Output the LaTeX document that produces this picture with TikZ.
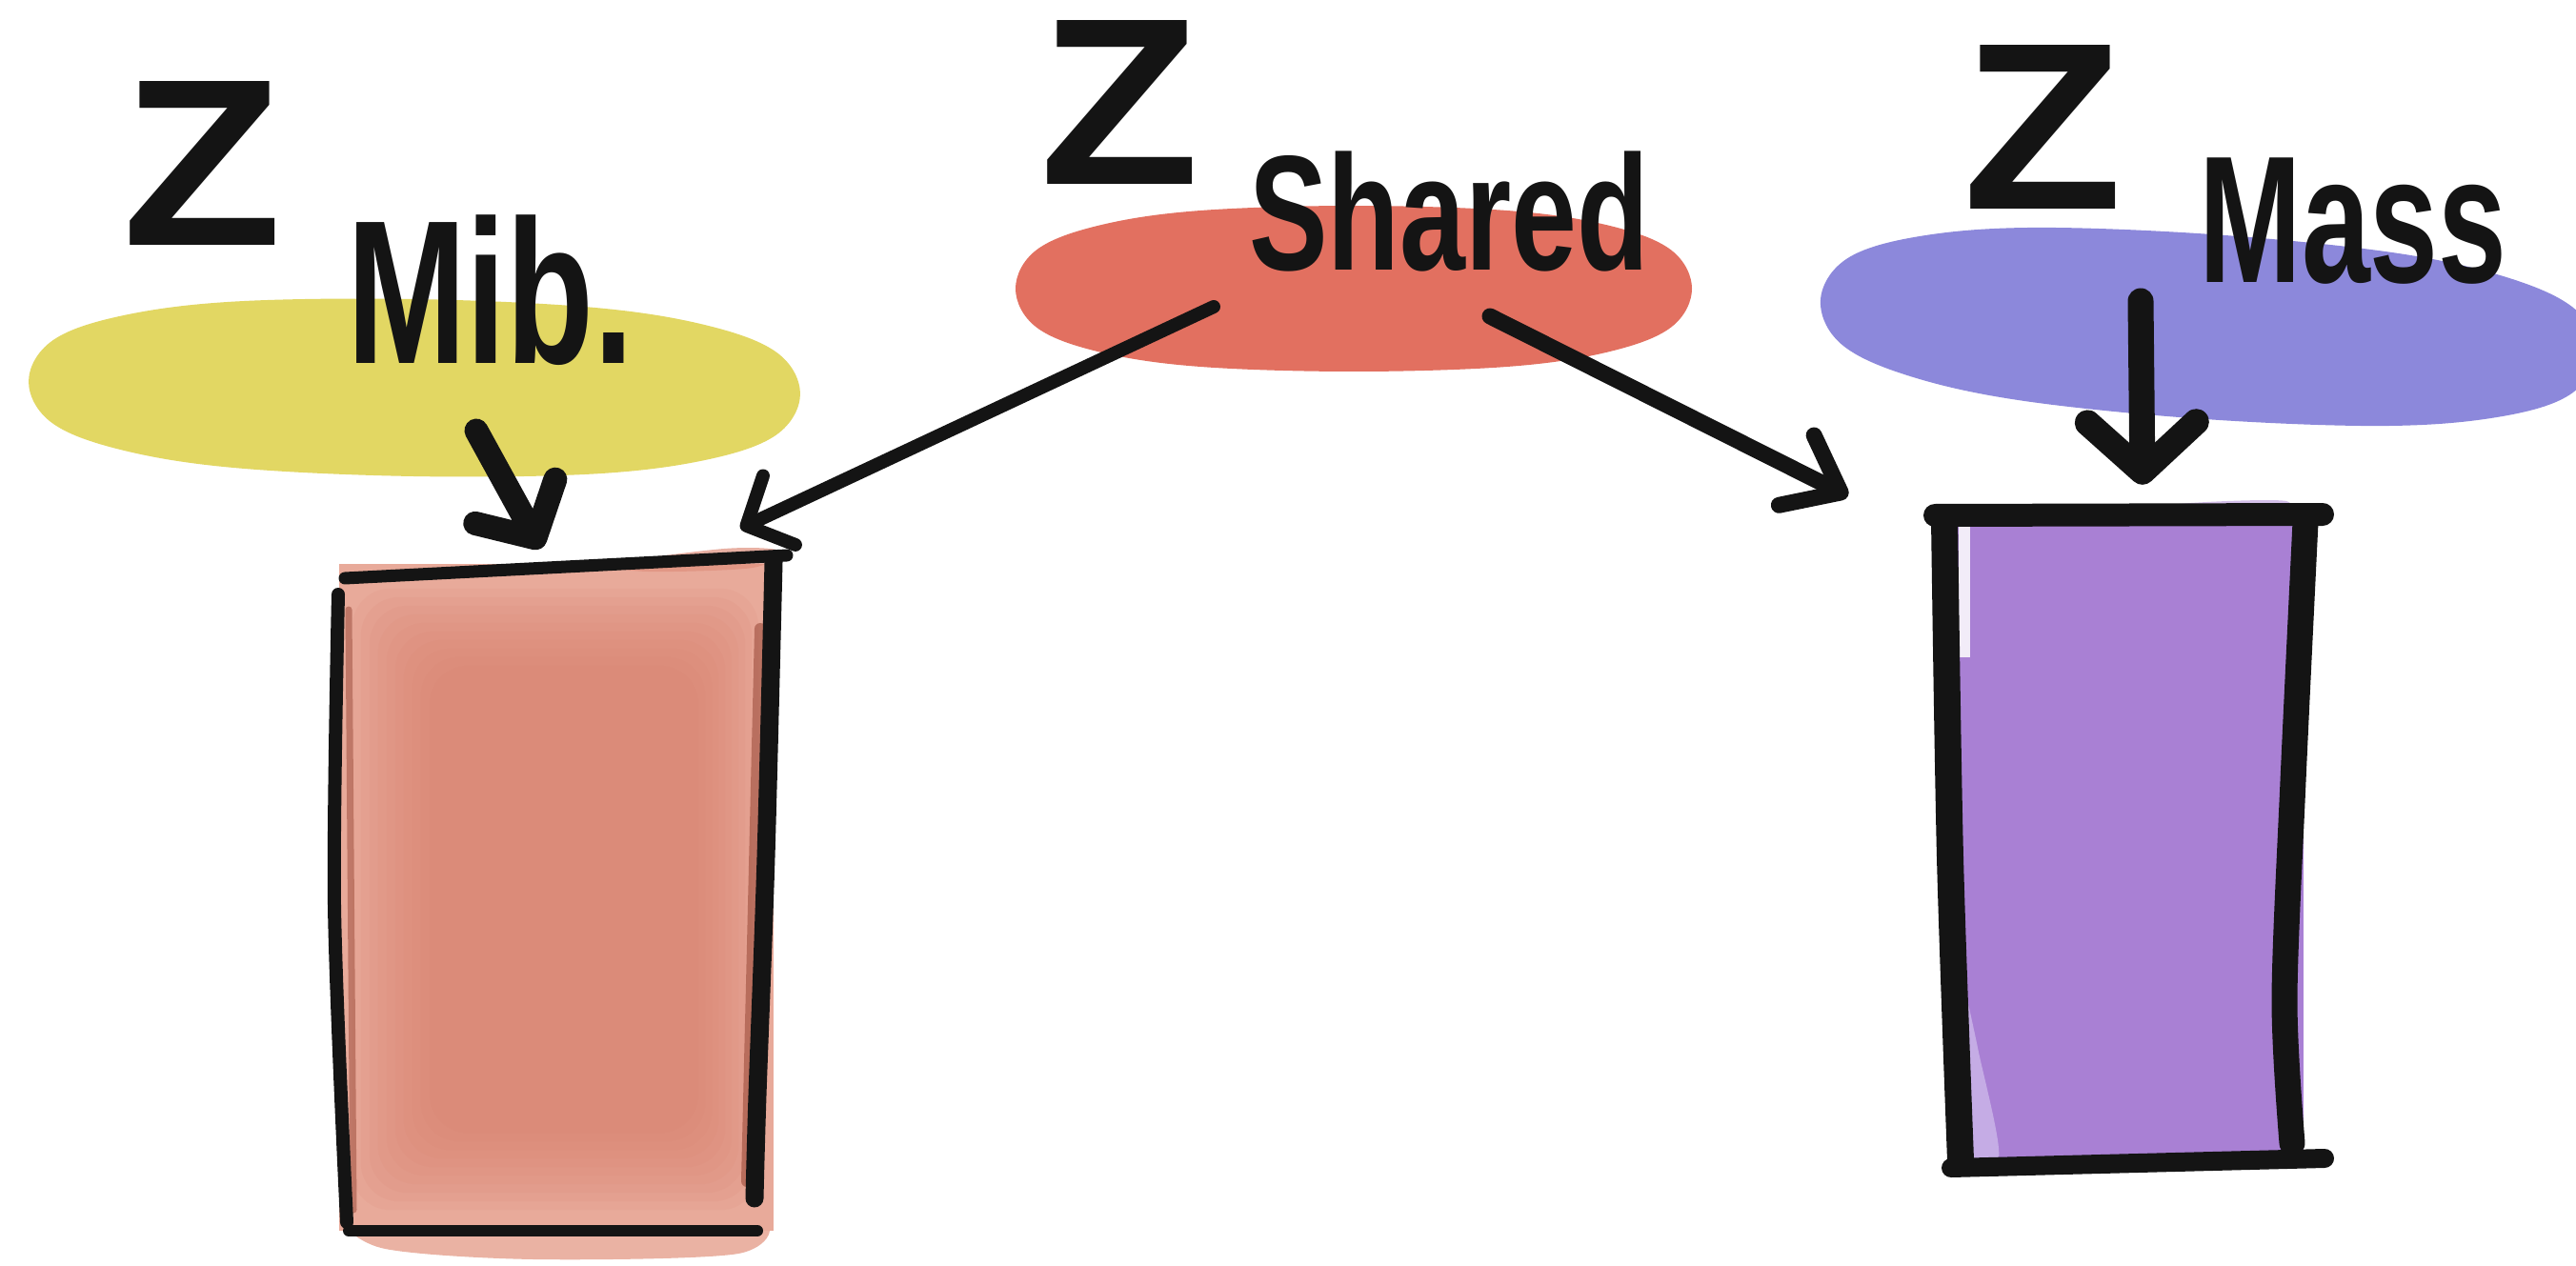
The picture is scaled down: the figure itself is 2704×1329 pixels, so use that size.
\documentclass[tikz,border=0pt]{standalone}
\usepackage{fontspec}
\usepackage{graphicx}
\setmainfont{Liberation Sans}
\newfontfamily\handfont{Liberation Sans}
\usetikzlibrary{arrows.meta,calc}

\definecolor{ink}{HTML}{141414}
\definecolor{blobyellow}{HTML}{E2D763}
\definecolor{blobred}{HTML}{E27060}
\definecolor{blobblue}{HTML}{8C88DB}
\definecolor{salmonlight}{HTML}{E8AA9A}
\definecolor{salmon}{HTML}{DF8F7D}
\definecolor{salmondark}{HTML}{DA8471}
\definecolor{rust}{HTML}{8E3B2A}
\definecolor{lilac}{HTML}{A980D4}
\definecolor{lilacpale}{HTML}{CDB8EA}

% soft superellipse blob: centre x, centre y, half width, half height, tilt, colour
\newcommand\sketchblob[6]{%
  \begin{scope}[shift={(#1,#2)}, rotate=#5, xscale=#3, yscale=#4]
    \fill[#6] plot[smooth cycle, tension=0.6] coordinates
      {(1,0) (0.939,0.464) (0.758,0.758) (0.464,0.939)
       (0,1) (-0.464,0.939) (-0.758,0.758) (-0.939,0.464)
       (-1,0) (-0.939,-0.464) (-0.758,-0.758) (-0.464,-0.939)
       (0,-1) (0.464,-0.939) (0.758,-0.758) (0.939,-0.464)};
  \end{scope}}

% handwritten-looking narrow lettering
\newcommand\narrowword[2]{\scalebox{#1}[1]{#2}}

\tikzset{
  inkline/.style={draw=ink, line cap=round, line join=round, line width=#1},
  flow/.style={draw=ink, line cap=round, line join=round, line width=#1},
  zglyph/.style={inner sep=0pt, text=ink, font=\handfont\bfseries\fontsize{250}{250}\selectfont},
  subtext/.style={inner sep=0pt, text=ink, font=\handfont\bfseries\fontsize{#1}{#1}\selectfont},
  boxbody/.style={inner sep=0pt, draw=none, fill=#1}
}

\begin{document}
\begin{tikzpicture}[x=1pt, y=-1pt]
  \useasboundingbox (0,0) rectangle (2704,1329);
  \clip (0,0) rectangle (2704,1329);
  \fill[white] (0,0) rectangle (2704,1329);

  % coloured blobs behind the labels
  \sketchblob{435}{407}{405}{93}{-1}{blobyellow}
  \sketchblob{1421}{303}{355}{87}{0}{blobred}
  \sketchblob{2318}{343}{408}{97}{-4}{blobblue}
  \coordinate (mib) at (435,407);
  \coordinate (shared) at (1421,303);
  \coordinate (mass) at (2318,343);

  % left box: salmon wash, lighter towards the edges
  \node[boxbody=salmonlight, minimum width=456pt, minimum height=700pt] (leftbox) at (584,942) {};
  \fill[salmonlight, opacity=.9] plot[smooth cycle] coordinates
    {(372,1275) (600,1288) (795,1280) (775,1316) (560,1322) (400,1310)};
  \foreach \k in {0,...,9}
    \fill[salmondark, opacity=.12, rounded corners=40pt]
      ($(leftbox.north west)+(14+9*\k,26+9*\k)$) rectangle
      ($(leftbox.south east)+(-16-7*\k,-22-9*\k)$);
  \fill[salmon, opacity=.7] plot[smooth cycle] coordinates
    {(640,592) (760,576) (818,578) (790,596) (680,600)};
  \draw[rust, line width=12pt, line cap=round, opacity=.5] (798,660) -- (784,1240);
  \draw[rust, line width=7pt, line cap=round, opacity=.45] (366,640) -- (371,1270);

  % left box: ink outline
  \draw[inkline=13pt] (362,607) -- (826,583);
  \draw[inkline=14pt] plot[smooth] coordinates {(355,624) (351,950) (364,1283)};
  \draw[inkline=19pt] plot[smooth] coordinates {(812,590) (804,900) (795,1150) (792,1258)};
  \draw[inkline=12pt] (366,1292) -- (795,1292);

  % right box: lilac wash
  \node[boxbody=lilac, minimum width=372pt, minimum height=672pt] (massbox) at (2232,882) {};
  \fill[lilacpale, opacity=.8] plot[smooth] coordinates
    {(2054,1000) (2076,1100) (2098,1216) (2054,1216)} -- cycle;
  \fill[white, opacity=.85] (2056,552) rectangle (2068,690);
  \fill[lilac!70, opacity=.7] plot[smooth cycle] coordinates
    {(2200,540) (2300,528) (2400,526) (2380,545) (2250,546)};

  % right box: ink outline
  \draw[inkline=24pt] (2031,541) -- (2438,540);
  \draw[inkline=28pt] plot[smooth] coordinates {(2041,545) (2047,900) (2058,1218)};
  \draw[inkline=27pt] plot[smooth] coordinates {(2420,548) (2407,820) (2398,1050) (2406,1200)};
  \draw[inkline=20pt] (2048,1226) -- (2440,1216);

  % connectors
  \draw[flow=25pt, -{Straight Barb[length=44pt,width=96pt,round]}]
    ($(mib)+(65,45)$) -- ($(leftbox.north)+(-16,-16)$);
  \draw[flow=14pt, -{Straight Barb[length=38pt,width=80pt,round]}]
    ($(shared)+(-147,19)$) -- ($(leftbox.north east)+(-35,-37)$);
  \draw[flow=17pt, -{Straight Barb[length=52pt,width=82pt,round]}]
    ($(shared)+(143,29)$) -- ($(massbox.north west)+(-106,-25)$);
  \draw[flow=27pt, -{Straight Barb[length=52pt,width=114pt,round]}]
    ($(mass)+(-71,-27)$) -- ($(massbox.north)+(17,-37)$);

  % labels
  \node[zglyph] (zmib) at (212,172) {\narrowword{1.1}{Z}};
  \node[subtext=215] (submib) at (515,305) {\narrowword{0.7}{Mib.}};
  \node[zglyph] (zshared) at (1175,108) {\narrowword{1.1}{Z}};
  \node[subtext=172] (subshared) at (1521,222) {\narrowword{0.72}{Shared}};
  \node[zglyph] (zmass) at (2144,134) {\narrowword{1.1}{Z}};
  \node[subtext=190] (submass) at (2470,232) {\narrowword{0.68}{Mass}};
\end{tikzpicture}
\end{document}
